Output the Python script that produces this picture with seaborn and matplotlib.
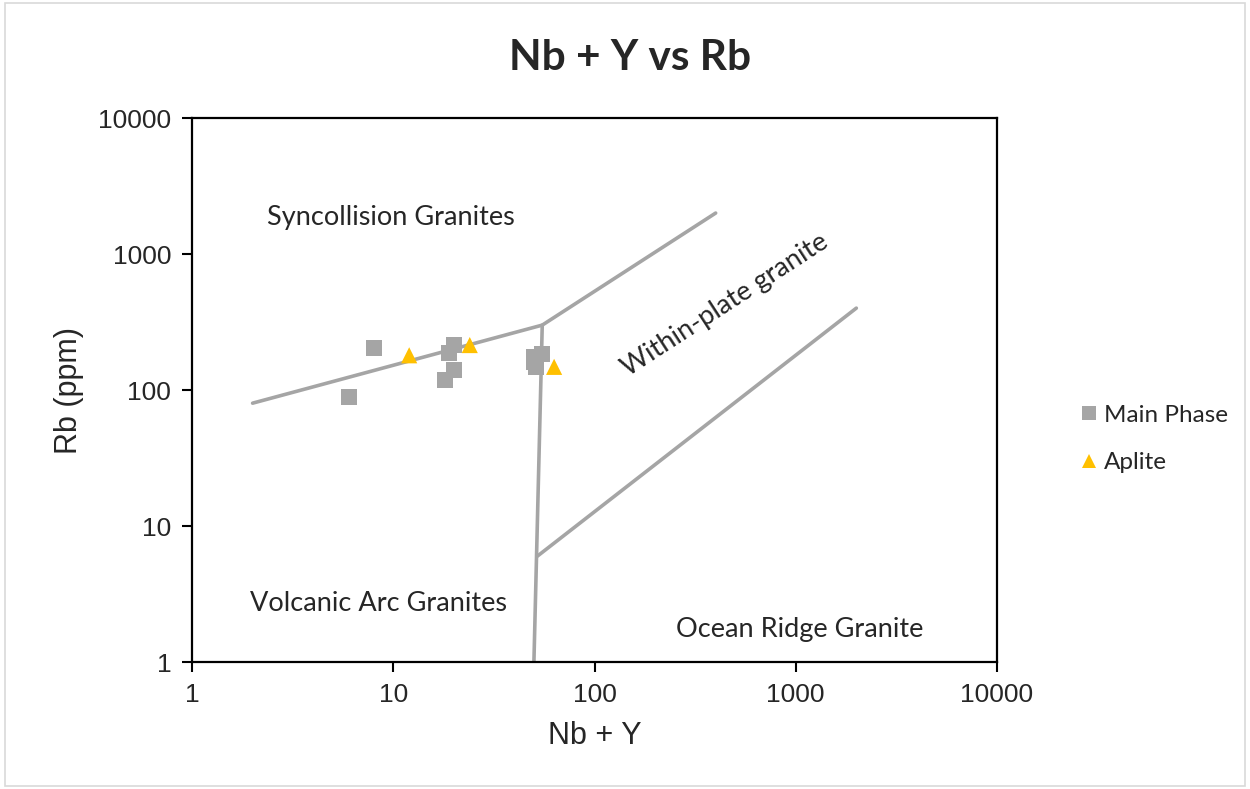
import numpy as np
import pandas as pd
import matplotlib
matplotlib.use("Agg")
import matplotlib.pyplot as plt
import seaborn as sns
from matplotlib.ticker import FixedLocator, FixedFormatter, NullLocator
from matplotlib.patches import Rectangle

# ---- data ----
main_x = [8, 6, 20, 19, 20, 18, 50, 55, 51, 50]
main_y = [204, 89, 214, 187, 140, 118, 175, 185, 147, 162]
aplite_x = [12, 24, 63]
aplite_y = [180, 214, 148]

# Pearce (1984) discrimination boundaries
b1_x = [2, 55, 400]
b1_y = [80, 300, 2000]
b2_x = [50, 55]
b2_y = [1, 300]
b3_x = [52, 2000]
b3_y = [6, 400]

tick_vals = [1, 10, 100, 1000, 10000]
tick_labels = ["1", "10", "100", "1000", "10000"]

df = pd.DataFrame({
    "Nb + Y": main_x + aplite_x,
    "Rb (ppm)": main_y + aplite_y,
    "Group": ["Main Phase"] * len(main_x) + ["Aplite"] * len(aplite_x),
})

sns.set_theme(style="white")
plt.rcParams["font.family"] = ["Liberation Sans", "DejaVu Sans"]

fig = plt.figure(figsize=(12.5, 7.89), dpi=100)
ax = fig.add_axes([192 / 1250, 1 - 662 / 789, 805 / 1250, 544 / 789])

line_col = "#A5A5A5"
for bx, by in [(b1_x, b1_y), (b2_x, b2_y), (b3_x, b3_y)]:
    ax.plot(bx, by, color=line_col, lw=2.6, solid_capstyle="round", zorder=1)

sns.scatterplot(
    data=df, x="Nb + Y", y="Rb (ppm)", hue="Group", style="Group",
    palette={"Main Phase": "#A5A5A5", "Aplite": "#FFC000"},
    markers={"Main Phase": "s", "Aplite": "^"},
    s=135, linewidth=0, ax=ax, zorder=3, legend=True,
)

ax.set_xscale("log")
ax.set_yscale("log")
ax.set_xlim(1, 10000)
ax.set_ylim(1, 10000)
for axis in (ax.xaxis, ax.yaxis):
    axis.set_major_locator(FixedLocator(tick_vals))
    axis.set_major_formatter(FixedFormatter(tick_labels))
    axis.set_minor_locator(NullLocator())
ax.tick_params(axis="both", which="major", direction="out", length=7, width=1.5,
               color="black", labelsize=19, pad=8, bottom=True, left=True)
for lab in ax.get_xticklabels() + ax.get_yticklabels():
    lab.set_family(["Liberation Sans", "DejaVu Sans"])
for sp in ax.spines.values():
    sp.set_color("black")
    sp.set_linewidth(1.6)

ax.set_xlabel("Nb + Y", fontsize=22, labelpad=10, family=["Liberation Sans", "DejaVu Sans"])
ax.set_ylabel("Rb (ppm)", fontsize=22, labelpad=10, family=["Liberation Sans", "DejaVu Sans"])

ann_font = ["Lato", "DejaVu Sans"]
ax.text(9.75, 1840, "Syncollision Granites", fontsize=19.5, family=ann_font,
        ha="center", va="center")
ax.text(8.4, 2.67, "Volcanic Arc Granites", fontsize=19.5, family=ann_font,
        ha="center", va="center")
ax.text(1050, 1.72, "Ocean Ridge Granite", fontsize=19.5, family=ann_font,
        ha="center", va="center")
ax.text(445, 422, "Within-plate granite", fontsize=19.5, family=ann_font,
        ha="center", va="center", rotation=33, rotation_mode="anchor")

handles, labels = ax.get_legend_handles_labels()
ax.legend(handles, labels, loc="center left", bbox_to_anchor=(1053 / 1250, 1 - 439 / 789),
          bbox_transform=fig.transFigure, frameon=False,
          prop={"family": ann_font, "size": 17.5}, handletextpad=0.0,
          labelspacing=1.1, markerscale=0.85, handlelength=1.2)

fig.suptitle("Nb + Y vs Rb", x=0.504, y=1 - 58 / 789, va="center",
             fontsize=30.5, fontweight="bold", family=ann_font)

fig.patches.append(Rectangle((0.004, 0.004), 0.992, 0.992, transform=fig.transFigure,
                             fill=False, edgecolor="#D9D9D9", lw=1.2))

fig.savefig("out.png", dpi=100)
